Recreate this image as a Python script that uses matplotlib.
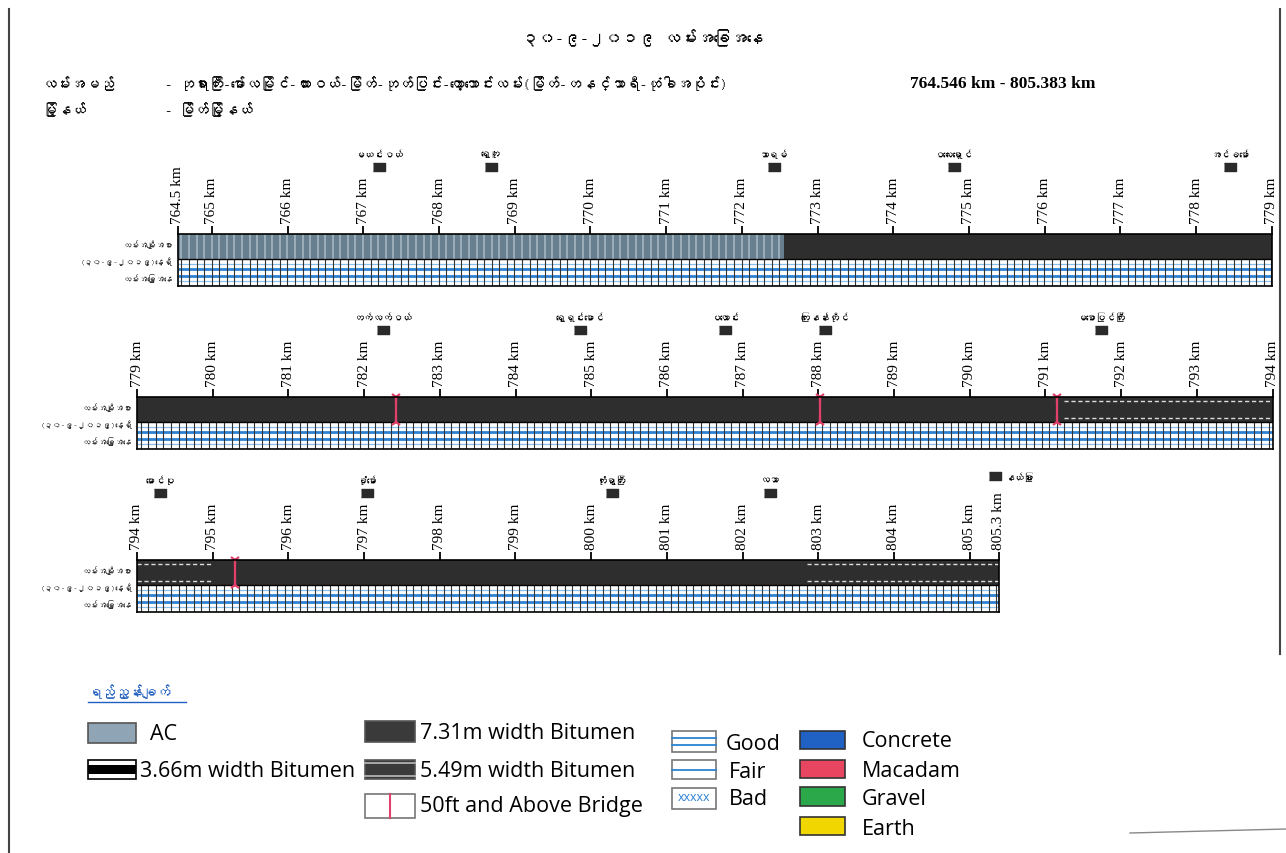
import matplotlib
matplotlib.use('Agg')
import matplotlib.pyplot as plt
import numpy as np
from matplotlib import font_manager
from matplotlib.ft2font import FT2Font
from matplotlib.patches import Rectangle

# ---------------- data ----------------
title = '၃၀-၉-၂၀၁၉ လမ်းအခြေအနေ'
road_label = 'လမ်းအမည်'
road_name = '- ဘုရားကြီး-မော်လမြိုင်-ထားဝယ်-မြိတ်-ဘုတ်ပြင်း-ကော့သောင်းလမ်း(မြိတ်-တနင်္သာရီ-ထုံခါအပိုင်း)'
road_km = '764.546 km - 805.383 km'
township_label = 'မြို့နယ်'
township_name = '- မြိတ်မြို့နယ်'
row_labels = ['လမ်းအမျိုးအစား', '(၃၀-၉-၂၀၁၉)နေ့ရှိ', 'လမ်းအခြေအနေ']
legend_title = 'ရည်ညွှန်းချက်'

strip_start = [764.546, 779.0, 794.0]
strip_end = [779.0, 794.0, 805.383]
strip_ticks = [[764.546] + list(range(765, 780)),
               list(range(779, 795)),
               list(range(794, 806)) + [805.383]]

surface_start = [764.546, 772.55, 791.25, 795.0, 802.85]
surface_end = [772.55, 791.25, 795.0, 802.85, 805.383]
surface_type = ['AC', '7.31m', '5.49m', '7.31m', '5.49m']

condition_start = [764.546]
condition_end = [805.383]
condition_type = ['Good']

bridge_km = [782.42, 788.02, 791.15, 795.3]

village_names = ['မယင်းဝယ်', 'ရွှေတူ', 'သာရမ်', 'ဝလေးရှောင်', 'အင်ခမော်',
                 'တက်လက်ဝယ်', 'ရွှေရှင်းမောင်', 'ပလောင်း', 'ကြေးနန်းတိုင်', 'မစောပြင်ကြီး',
                 'မောင်ပု', 'ခုံမော်', 'တုံးရွာကြီး', 'လသာ', 'နယ်ခြား']
village_km = [767.21, 768.68, 772.42, 774.80, 778.45,
              782.25, 784.85, 786.77, 788.09, 791.74,
              794.31, 797.04, 800.27, 802.36, 805.33]

# ---------------- style ----------------
W, H = 1286, 854
PX_PER_KM = 75.7
strip_left_px = [177.6, 137, 137]
strip_top_px = [235, 398, 561]
BAR_H = 52
COND_H = 0.52          # condition band share of the bar (bottom part)

AC_COLOR = '#687f8f'
AC_LINE = '#a9bac5'
DARK = '#2e2e2e'
BLUE = '#2b82d4'
LIGHT_BLUE = '#8cc0ea'
RED = '#e0406a'
VILLAGE_MARK = [(-1, -0.7), (1, -0.7), (1, 0.7), (-1, 0.7)]


def find_myanmar_font():
    for f in font_manager.fontManager.ttflist:
        try:
            if 0x1000 in FT2Font(f.fname).get_charmap():
                return f.name
        except Exception:
            pass
    return None


mm = find_myanmar_font()
MM_FAMILY = [mm, 'DejaVu Sans'] if mm else ['DejaVu Sans']
SERIF = ['Liberation Serif', 'DejaVu Serif']
SANS = ['Open Sans', 'DejaVu Sans']


def km_label(k):
    if float(k).is_integer():
        return f'{int(k)} km'
    return f'{np.floor(k * 10) / 10:.1f} km'


def draw_strip(fig, i):
    s, e = strip_start[i], strip_end[i]
    left = strip_left_px[i]
    width = (e - s) * PX_PER_KM
    top = strip_top_px[i]
    ax = fig.add_axes([left / W, 1 - (top + BAR_H) / H, width / W, BAR_H / H])
    ax.set_xlim(s, e)
    ax.set_ylim(0, 1)

    # surface band
    for a, b, kind in zip(surface_start, surface_end, surface_type):
        a, b = max(a, s), min(b, e)
        if b <= a:
            continue
        if kind == 'AC':
            ax.broken_barh([(a, b - a)], (COND_H, 1 - COND_H), facecolors=AC_COLOR)
            ax.vlines(np.arange(a + 0.05, b, 0.1), COND_H, 1, colors=AC_LINE, lw=1.1)
        else:
            ax.broken_barh([(a, b - a)], (COND_H, 1 - COND_H), facecolors=DARK)
            if kind == '5.49m':
                for yy in (COND_H + 0.08, 0.93):
                    ax.hlines(yy, a, b, colors='#dddddd', lw=1, linestyles=(0, (3, 2)))

    # condition band
    for a, b, kind in zip(condition_start, condition_end, condition_type):
        a, b = max(a, s), min(b, e)
        if b <= a:
            continue
        ax.broken_barh([(a, b - a)], (0, COND_H), facecolors='white')
        if kind == 'Good':
            for yy in (COND_H * 0.38, COND_H * 0.62):
                ax.hlines(yy, a, b, colors=BLUE, lw=2)
            for yy in (COND_H * 0.17, COND_H * 0.83):
                ax.hlines(yy, a, b, colors=LIGHT_BLUE, lw=0.9)
        ax.vlines(np.arange(a + 0.05, b, 0.1), 0, COND_H, colors='#333333', lw=0.8)
    ax.axhline(COND_H, color='black', lw=1)

    # bridges
    for k in bridge_km:
        if s < k < e:
            ax.vlines(k, COND_H, 1, colors=RED, lw=1.6)
            ax.plot(k, 1, marker='1', ms=8, mew=1.6, color=RED, clip_on=False)
            ax.plot(k, COND_H, marker='2', ms=8, mew=1.6, color=RED, clip_on=False)

    # villages
    marker_y = 1 + 67 / BAR_H
    label_y = 1 + 81 / BAR_H
    tr = ax.get_xaxis_transform()
    for name, k in zip(village_names, village_km):
        if not (s <= k <= e):
            continue
        if k == village_km[-1]:
            ax.plot(k, label_y + 0.05, marker=VILLAGE_MARK, ms=9, color='#2a2a2a',
                    transform=tr, clip_on=False)
            ax.text(k + 0.14, label_y + 0.05, name, transform=tr, ha='left', va='center',
                    fontsize=7, family=MM_FAMILY)
        else:
            ax.plot(k, marker_y, marker=VILLAGE_MARK, ms=9, color='#2a2a2a',
                    transform=tr, clip_on=False)
            ax.text(k, label_y, name, transform=tr, ha='center', va='center',
                    fontsize=7, family=MM_FAMILY)

    # km ticks
    ticks = strip_ticks[i]
    ax.set_xticks(ticks, [km_label(t) for t in ticks], fontfamily=SERIF)
    ax.xaxis.tick_top()
    ax.tick_params(axis='x', direction='out', length=6, width=1.3, pad=2,
                   labelsize=11, labelrotation=90)
    ax.set_yticks([])
    for sp in ax.spines.values():
        sp.set_linewidth(1.2)

    # row labels
    for yy, lbl in zip((0.81, 0.48, 0.17), row_labels):
        ax.text(-5 / width, yy, lbl, transform=ax.transAxes, ha='right', va='center',
                fontsize=6, family=MM_FAMILY, color='#333333')
    return ax


def draw_page(fig):
    pg = fig.add_axes([0, 0, 1, 1])
    pg.set_xlim(0, W)
    pg.set_ylim(H, 0)
    pg.axis('off')

    # page frame
    pg.plot([9, 9], [10, H], color='#444444', lw=1.5)
    pg.plot([1280, 1280], [10, 655], color='#444444', lw=1.5)
    pg.plot([1130, 1286], [834, 830], color='#888888', lw=1)

    # header
    pg.text(643, 38, title, ha='center', va='center', fontsize=12, family=MM_FAMILY)
    pg.text(42, 84, road_label, ha='left', va='center', fontsize=10.5, family=MM_FAMILY)
    pg.text(165, 84, road_name, ha='left', va='center', fontsize=10.5, family=MM_FAMILY)
    pg.text(910, 84, road_km, ha='left', va='center', fontsize=12.5, family=SERIF, weight='bold')
    pg.text(42, 110, township_label, ha='left', va='center', fontsize=10.5, family=MM_FAMILY)
    pg.text(165, 110, township_name, ha='left', va='center', fontsize=10.5, family=MM_FAMILY)

    # legend
    pg.text(88, 692, legend_title, ha='left', va='center', fontsize=10,
            family=MM_FAMILY, color='#1f5fbf')
    pg.plot([88, 186], [703, 703], color='#1f5fbf', lw=1)

    def box(x, y, w, h, fc, ec='#555555'):
        pg.add_patch(Rectangle((x, y), w, h, facecolor=fc, edgecolor=ec, lw=1.2))

    def label(x, y, txt):
        pg.text(x, y, txt, ha='left', va='center', fontsize=15.5, family=SANS)

    box(88, 724, 48, 20, '#8fa4b4')
    label(150, 735, 'AC')
    box(88, 761, 48, 19, 'white', 'black')
    pg.add_patch(Rectangle((88, 766), 48, 9, facecolor='black', edgecolor='none'))
    label(140, 772, '3.66m width Bitumen')

    box(365, 722, 50, 21, '#3a3a3a')
    label(420, 734, '7.31m width Bitumen')
    box(365, 761, 50, 19, '#3a3a3a')
    pg.plot([365, 415], [764, 764], color='#bbbbbb', lw=1.2)
    pg.plot([365, 415], [777, 777], color='#bbbbbb', lw=1.2)
    label(420, 772, '5.49m width Bitumen')
    box(365, 795, 50, 24, 'white', '#777777')
    pg.plot([390, 390], [795, 819], color=RED, lw=1.5)
    label(420, 807, '50ft and Above Bridge')

    box(672, 732, 44, 21, 'white', '#777777')
    pg.plot([672, 716], [739, 739], color=BLUE, lw=1.3)
    pg.plot([672, 716], [746, 746], color=BLUE, lw=1.3)
    label(726, 745, 'Good')
    box(672, 761, 44, 19, 'white', '#777777')
    pg.plot([672, 716], [771, 771], color=BLUE, lw=1.3)
    label(729, 773, 'Fair')
    box(672, 789, 44, 21, 'white', '#777777')
    pg.text(694, 798, 'xxxxx', ha='center', va='center', fontsize=9, color=BLUE, family=SANS)
    label(729, 800, 'Bad')

    box(800, 732, 45, 18, '#1f62c4', '#333333')
    label(862, 742, 'Concrete')
    box(800, 761, 45, 18, '#e84560', '#333333')
    label(862, 772, 'Macadam')
    box(800, 788, 45, 19, '#2aa84a', '#333333')
    label(862, 800, 'Gravel')
    box(800, 818, 45, 18, '#f2d600', '#333333')
    label(862, 830, 'Earth')


def main():
    fig = plt.figure(figsize=(W / 100, H / 100), dpi=100, facecolor='white')
    draw_page(fig)
    for i in range(3):
        draw_strip(fig, i)
    fig.savefig('out.png', dpi=100, facecolor='white')


if __name__ == '__main__':
    main()
